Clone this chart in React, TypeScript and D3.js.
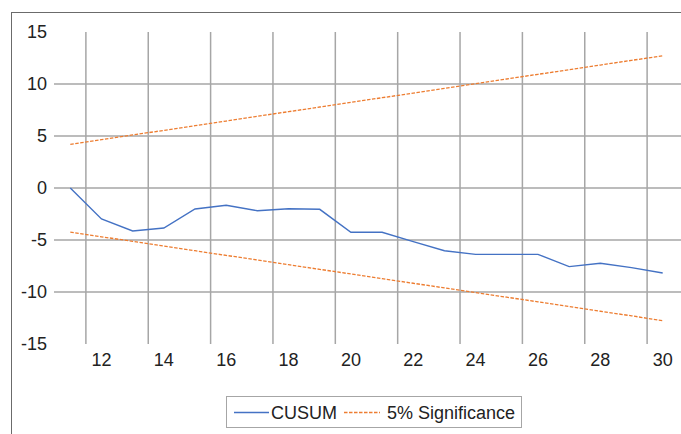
import { useEffect, useRef } from 'react';
import * as d3 from 'd3';

const periods = [11, 12, 13, 14, 15, 16, 17, 18, 19, 20, 21, 22, 23, 24, 25, 26, 27, 28, 29, 30];
const cusum = [0, -2.97, -4.13, -3.85, -2.02, -1.66, -2.18, -1.99, -2.05, -4.26, -4.26, -5.16, -6.03, -6.38, -6.38, -6.38, -7.56, -7.24, -7.66, -8.17];
const upper = [4.2, 4.65, 5.1, 5.54, 5.99, 6.44, 6.89, 7.34, 7.79, 8.24, 8.68, 9.13, 9.58, 10.03, 10.48, 10.93, 11.38, 11.82, 12.27, 12.72];
const lower = [-4.24, -4.69, -5.13, -5.58, -6.03, -6.48, -6.92, -7.37, -7.82, -8.27, -8.71, -9.16, -9.61, -10.06, -10.5, -10.95, -11.4, -11.85, -12.29, -12.76];
const yTicks = [-15, -10, -5, 0, 5, 10, 15];
const xTicks = [12, 14, 16, 18, 20, 22, 24, 26, 28, 30];
const xGrid = [11.5, 13.5, 15.5, 17.5, 19.5, 21.5, 23.5, 25.5, 27.5, 29.5];

export default function App() {
  const svgRef = useRef<SVGSVGElement>(null);

  useEffect(() => {
    const svg = d3.select(svgRef.current);
    svg.selectAll('*').remove();

    const x = d3.scaleLinear().domain([11, 30]).range([70.3, 662.7]);
    const y = d3.scaleLinear().domain([-15, 15]).range([344, 32]);
    const font = 'Liberation Sans, Arial, sans-serif';
    const fs = 18;

    // outer frame (runs off the right and bottom edges)
    svg.append('rect')
      .attr('x', 11.5).attr('y', 12.5)
      .attr('width', 700).attr('height', 450)
      .attr('fill', 'none').attr('stroke', '#6b6b6b').attr('stroke-width', 1);

    // horizontal gridlines (not at the ends)
    svg.append('g').selectAll('line')
      .data(yTicks.filter((t) => t > -15 && t < 15))
      .join('line')
      .attr('x1', 54).attr('x2', 690)
      .attr('y1', (d) => y(d)).attr('y2', (d) => y(d))
      .attr('stroke', '#a6a6a6').attr('stroke-width', 1.5);

    // vertical gridlines
    svg.append('g').selectAll('line')
      .data(xGrid)
      .join('line')
      .attr('x1', (d) => x(d)).attr('x2', (d) => x(d))
      .attr('y1', y(15)).attr('y2', y(-15))
      .attr('stroke', '#a6a6a6').attr('stroke-width', 1.5);

    // y labels
    svg.append('g').selectAll('text')
      .data(yTicks)
      .join('text')
      .attr('x', 47).attr('y', (d) => y(d))
      .attr('dy', '0.35em')
      .attr('text-anchor', 'end')
      .attr('font-family', font).attr('font-size', fs).attr('fill', '#222')
      .text((d) => d);

    // x labels
    svg.append('g').selectAll('text')
      .data(xTicks)
      .join('text')
      .attr('x', (d) => x(d)).attr('y', 366)
      .attr('text-anchor', 'middle')
      .attr('font-family', font).attr('font-size', fs).attr('fill', '#222')
      .text((d) => d);

    const line = (vals: number[]) =>
      d3.line<number>().x((_, i) => x(periods[i])).y((d) => y(d))(vals);

    [upper, lower].forEach((vals) => {
      svg.append('path')
        .attr('d', line(vals))
        .attr('fill', 'none').attr('stroke', '#ed7d31')
        .attr('stroke-width', 1.3).attr('stroke-dasharray', '3.5,1.5');
    });

    svg.append('path')
      .attr('d', line(cusum))
      .attr('fill', 'none').attr('stroke', '#4472c4')
      .attr('stroke-width', 1.4);

    // legend
    const lg = svg.append('g');
    lg.append('rect')
      .attr('x', 226.5).attr('y', 396.5).attr('width', 295).attr('height', 31)
      .attr('fill', '#fff').attr('stroke', '#a6a6a6').attr('stroke-width', 1);
    lg.append('line')
      .attr('x1', 234).attr('x2', 269).attr('y1', 412.5).attr('y2', 412.5)
      .attr('stroke', '#4472c4').attr('stroke-width', 1.4);
    lg.append('text')
      .attr('x', 271).attr('y', 419)
      .attr('font-family', font).attr('font-size', fs).attr('fill', '#222')
      .text('CUSUM');
    lg.append('line')
      .attr('x1', 344).attr('x2', 380).attr('y1', 412.5).attr('y2', 412.5)
      .attr('stroke', '#ed7d31').attr('stroke-width', 1.3).attr('stroke-dasharray', '3.5,1.5');
    lg.append('text')
      .attr('x', 387).attr('y', 419)
      .attr('font-family', font).attr('font-size', fs).attr('fill', '#222')
      .text('5% Significance');
  }, []);

  return (
    <svg
      ref={svgRef}
      width={681}
      height={434}
      style={{ position: 'absolute', left: 0, top: 0, display: 'block', background: '#fff' }}
    />
  );
}
